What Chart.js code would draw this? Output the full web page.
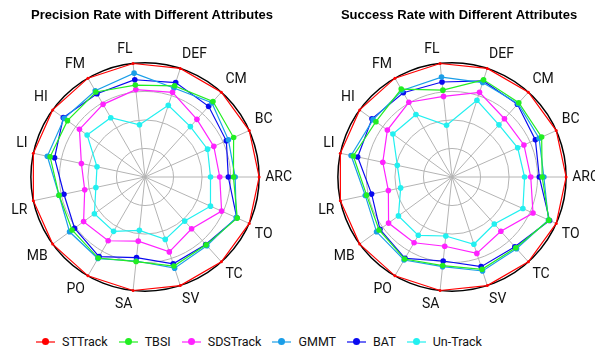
<!DOCTYPE html>
<html>
<head>
<meta charset="utf-8">
<script src="https://cdn.jsdelivr.net/npm/chart.js@4.4.1/dist/chart.umd.min.js"></script>
<style>
  body { margin: 0; width: 595px; height: 352px; overflow: hidden; background: #fff; position: relative; }
  canvas { position: absolute; top: 0; }
  #left { left: 0; }
  #right { left: 307px; }
  #legend { position: absolute; left: 36px; top: 334px; display: flex; align-items: center; font: 12.5px Roboto, sans-serif; color: #111; }
  .item { display: flex; align-items: center; margin-right: 11px; }
  .swatch { position: relative; width: 19px; height: 2px; margin-right: 7px; }
  .swatch span { position: absolute; left: 6px; top: -2.5px; width: 7px; height: 7px; border-radius: 50%; }
</style>
</head>
<body>
<canvas id="left" width="310" height="330"></canvas>
<canvas id="right" width="310" height="330"></canvas>
<div id="legend"></div>
<script>
var attrs = ['FL', 'DEF', 'CM', 'BC', 'ARC', 'TO', 'TC', 'SV', 'SA', 'PO', 'MB', 'LR', 'LI', 'HI', 'FM'];
var trackers = ['STTrack', 'TBSI', 'SDSTrack', 'GMMT', 'BAT', 'Un-Track'];
var colors = ['#ff0000', '#22ee22', '#ff22ff', '#1a9ee8', '#0a0af0', '#22f0f0'];

// precision rate (normalised, STTrack = 1)
var prSTTrack = [1, 1, 1, 1, 1, 1, 1, 1, 1, 1, 1, 1, 1, 1, 1];
var prTBSI = [0.81, 0.84, 0.89, 0.85, 0.775, 0.885, 0.80, 0.82, 0.745, 0.82, 0.79, 0.77, 0.85, 0.84, 0.86];
var prSDSTrack = [0.77, 0.78, 0.68, 0.66, 0.655, 0.735, 0.61, 0.69, 0.565, 0.645, 0.665, 0.54, 0.57, 0.71, 0.735];
var prGMMT = [0.915, 0.82, 0.875, 0.80, 0.79, 0.875, 0.81, 0.84, 0.74, 0.825, 0.817, 0.77, 0.875, 0.875, 0.872];
var prBAT = [0.857, 0.87, 0.833, 0.78, 0.73, 0.88, 0.795, 0.80, 0.71, 0.805, 0.763, 0.726, 0.81, 0.885, 0.842];
var prUnTrack = [0.46, 0.66, 0.594, 0.60, 0.574, 0.628, 0.52, 0.575, 0.47, 0.55, 0.548, 0.44, 0.43, 0.627, 0.60];

// success rate
var srSTTrack = [1, 1, 1, 1, 1, 1, 1, 1, 1, 1, 1, 1, 1, 1, 1];
var srTBSI = [0.765, 0.895, 0.875, 0.86, 0.79, 0.93, 0.835, 0.85, 0.78, 0.83, 0.79, 0.765, 0.884, 0.824, 0.89];
var srSDSTrack = [0.71, 0.78, 0.687, 0.69, 0.69, 0.777, 0.64, 0.704, 0.61, 0.665, 0.687, 0.57, 0.62, 0.70, 0.756];
var srGMMT = [0.88, 0.87, 0.865, 0.835, 0.805, 0.925, 0.845, 0.866, 0.79, 0.84, 0.817, 0.777, 0.904, 0.855, 0.875];
var srBAT = [0.837, 0.885, 0.857, 0.80, 0.765, 0.936, 0.823, 0.826, 0.74, 0.823, 0.78, 0.72, 0.845, 0.867, 0.853];
var srUnTrack = [0.456, 0.707, 0.615, 0.63, 0.636, 0.68, 0.554, 0.62, 0.52, 0.59, 0.58, 0.46, 0.49, 0.64, 0.632];

function makeSets(series) {
  return series.map(function(d, i) {
    return {
      label: trackers[i],
      data: d,
      borderColor: colors[i],
      backgroundColor: colors[i],
      borderWidth: 1.2,
      pointRadius: i === 0 ? 1.5 : 2.8,
      pointBorderWidth: 0,
      fill: false
    };
  });
}

function radar(id, title, series) {
  return new Chart(document.getElementById(id), {
    type: 'radar',
    data: { labels: attrs, datasets: makeSets(series) },
    options: {
      responsive: false,
      animation: false,
      devicePixelRatio: 1,
      layout: { padding: { left: 5, right: 11, bottom: 4 } },
      plugins: {
        legend: { display: false },
        tooltip: { enabled: false },
        title: {
          display: true,
          text: title,
          color: '#000',
          font: { family: 'Liberation Sans', size: 13, weight: 'bold' },
          padding: { top: 8, bottom: 6 }
        }
      },
      scales: {
        r: {
          min: 0,
          max: 1,
          startAngle: -6,
          ticks: { display: false, stepSize: 0.25 },
          grid: {
            circular: true,
            color: function(ctx) { return ctx.tick && ctx.tick.value === 1 ? '#000' : '#b4b4b4'; },
            lineWidth: function(ctx) { return ctx.tick && ctx.tick.value === 1 ? 1.5 : 1; }
          },
          angleLines: { color: '#b4b4b4', lineWidth: 1 },
          pointLabels: {
            color: '#111',
            padding: 6,
            font: { family: 'Roboto', size: 14 }
          }
        }
      }
    }
  });
}

radar('left', 'Precision Rate with Different Attributes',
  [prSTTrack, prTBSI, prSDSTrack, prGMMT, prBAT, prUnTrack]);
radar('right', 'Success Rate with Different Attributes',
  [srSTTrack, srTBSI, srSDSTrack, srGMMT, srBAT, srUnTrack]);

var legend = document.getElementById('legend');
trackers.forEach(function(name, i) {
  var item = document.createElement('div');
  item.className = 'item';
  var sw = document.createElement('div');
  sw.className = 'swatch';
  sw.style.background = colors[i] + '99';
  var dot = document.createElement('span');
  dot.style.background = colors[i];
  sw.appendChild(dot);
  var txt = document.createElement('span');
  txt.textContent = name;
  item.appendChild(sw);
  item.appendChild(txt);
  legend.appendChild(item);
});
</script>
</body>
</html>
